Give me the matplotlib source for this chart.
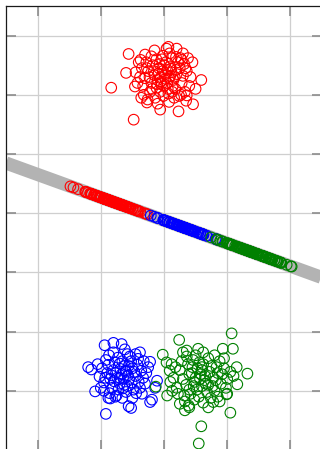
import numpy as np
import matplotlib
matplotlib.use("Agg")
import matplotlib.pyplot as plt

# ---- data ----
red_x = [-0.835, -0.56, -0.48, 0.07, 0.59, -0.37, -0.60, 0.46, 0.36, -0.27, 0.23, -0.06, -0.46, 0.28, 0.19,
         -0.05, 0.02, -0.10, 0.08, -0.02, 0.12, -0.15, 0.05, -0.08, 0.15,
         -0.20, 0.00, 0.10, -0.12, 0.20, -0.25, 0.03, -0.18, 0.25, 0.18,
         -0.30, 0.28, -0.06, 0.07, -0.22, 0.22, -0.12, 0.12, -0.02, 0.30,
         -0.33, 0.33, -0.28, 0.05, -0.04, 0.14, -0.16, 0.02, -0.09, 0.10,
         -0.01, 0.16, -0.14, 0.26, -0.35, 0.36, 0.09, -0.20, 0.24, -0.26,
         0.00, -0.11, 0.19, -0.23, 0.06, 0.13, -0.03, 0.32, -0.38, 0.40,
         -0.40, 0.42, -0.32, 0.35, -0.42, 0.45, -0.10, 0.08, 0.30, -0.30,
         0.38, -0.45, 0.50, 0.04, -0.15, 0.20, -0.36, 0.27, -0.05, 0.11,
         -0.19, 0.17, -0.27, 0.34, -0.07]
red_y = [2.12, 2.69, 1.58, 2.81, 2.25, 2.59, 2.37, 1.84, 1.99, 1.87, 1.72, 1.75, 2.14, 2.59, 2.64,
         2.30, 2.35, 2.25, 2.28, 2.40, 2.38, 2.33, 2.20, 2.45, 2.25,
         2.20, 2.15, 2.48, 2.12, 2.35, 2.40, 2.55, 2.50, 2.45, 2.10,
         2.28, 2.20, 2.05, 2.02, 2.05, 2.55, 2.60, 2.62, 2.66, 2.32,
         2.15, 2.05, 2.55, 2.42, 2.18, 2.15, 2.40, 2.27, 2.36, 2.32,
         1.98, 1.95, 1.95, 2.62, 2.45, 2.40, 2.70, 2.65, 1.98, 1.92,
         2.50, 2.18, 2.42, 2.30, 2.10, 2.05, 2.60, 2.52, 2.30, 2.15,
         2.55, 2.30, 2.00, 1.90, 2.20, 2.55, 1.85, 1.88, 2.70, 2.68,
         2.62, 2.38, 2.10, 2.78, 2.75, 2.78, 1.95, 2.00, 2.22, 2.44,
         2.10, 2.30, 2.45, 2.45, 2.52]

blue_x = [-0.94, -0.67, -0.80, -1.20, -1.15, -1.09, -0.92, -0.56, -0.52, -0.22, -0.19, -0.11, -0.14, -0.38, -0.22, -0.85, -0.77,
          -0.67, -0.60, -0.74, -0.55, -0.80, -0.62, -0.70, -0.50, -0.85, -0.58,
          -0.78, -0.45, -0.90, -0.66, -0.40, -0.72, -0.52, -0.95, -0.48, -0.82,
          -0.36, -0.64, -0.76, -0.57, -0.69, -0.88, -0.42, -0.60, -0.98, -0.33,
          -0.73, -0.54, -0.86, -0.44, -0.63, -0.79, -0.51, -0.70, -0.92, -0.38,
          -0.61, -0.83, -0.47, -0.75, -0.58, -0.30, -1.02, -0.66, -0.41, -0.87,
          -1.05, -0.28, -0.95, -0.35, -0.62, -0.80, -0.50, -1.00, -0.25, -0.45,
          -0.88, -0.70, -0.56, -0.65, -0.93, -0.32]
blue_y = [-2.23, -2.21, -2.19, -2.60, -2.64, -3.01, -3.39, -3.26, -3.29, -3.19, -3.15, -2.83, -2.95, -2.35, -2.51, -3.13, -3.10,
          -2.72, -2.68, -2.78, -2.80, -2.65, -2.58, -2.88, -2.62, -2.80, -2.92,
          -2.52, -2.75, -2.70, -2.50, -2.85, -2.98, -2.50, -2.86, -2.98, -2.95,
          -2.66, -2.80, -2.70, -2.74, -2.63, -2.56, -2.56, -3.02, -2.62, -2.78,
          -2.44, -2.42, -3.04, -3.04, -2.90, -2.84, -2.86, -2.54, -2.48, -2.95,
          -2.66, -2.74, -2.68, -3.08, -2.38, -2.88, -2.76, -3.12, -2.46, -2.40,
          -2.55, -2.70, -3.00, -3.05, -2.30, -2.35, -3.12, -2.95, -2.60, -2.38,
          -3.12, -2.78, -2.58, -2.96, -2.78, -2.50]

green_x = [1.07, 0.24, 1.09, 1.32, 1.16, 1.05, 0.59, 0.55, 0.33, 0.39, 0.04, 0.09, -0.13, 0.13, 0.78, 0.99, 0.36, 0.54, 0.93, -0.02,
           0.57, 0.65, 0.48, 0.70, 0.40, 0.60, 0.52, 0.78, 0.35, 0.68,
           0.45, 0.85, 0.30, 0.62, 0.90, 0.42, 0.75, 0.25, 0.80, 0.55,
           0.95, 0.20, 0.58, 0.50, 0.72, 0.38, 0.88, 0.66, 0.32, 1.00,
           0.46, 0.74, 0.28, 0.60, 0.82, 0.40, 0.53, 0.98, 0.15, 0.70,
           0.36, 0.85, 0.62, 0.22, 0.48, 0.92, 0.56, 0.77, 0.44, 0.64,
           0.18, 1.05, 0.33, 0.88, 0.50,
           0.10, 1.10, 0.25, 1.00, 0.62, 0.80, 0.12, 1.15, 0.40, 0.70,
           0.05, 0.95, 0.60, 0.47, 0.83, 0.30]
green_y = [-2.03, -2.14, -2.29, -2.71, -2.89, -3.37, -3.60, -3.89, -3.33, -3.25, -2.52, -2.66, -2.93, -3.00, -3.19, -3.06, -2.32, -2.29, -2.29, -2.39,
           -2.80, -2.75, -2.85, -2.90, -2.72, -2.65, -2.98, -2.78, -2.90, -3.02,
           -2.60, -2.70, -2.80, -2.55, -2.88, -3.05, -2.58, -2.65, -3.00, -3.10,
           -2.62, -2.95, -2.72, -2.78, -2.68, -2.55, -2.50, -2.88, -3.08, -2.80,
           -2.48, -3.12, -2.50, -2.92, -2.82, -2.98, -2.62, -2.95, -2.78, -2.45,
           -2.42, -3.10, -3.20, -3.05, -3.15, -2.72, -2.52, -2.92, -2.70, -2.82,
           -2.60, -2.68, -3.18, -3.18, -2.40,
           -2.85, -2.75, -3.22, -3.05, -2.35, -2.40, -2.55, -2.60, -3.28, -3.28,
           -3.08, -2.45, -2.60, -2.92, -2.60, -2.35]

line_point = (0.0, -0.12)
line_slope = -0.387

x_ticks = [-2, -1, 0, 1, 2]
y_ticks = [-4, -3, -2, -1, 0, 1, 2, 3]

# ---- figure ----
fig = plt.figure(figsize=(3.2, 4.49), dpi=100)
ax = fig.add_axes([6 / 320, 1 - 450 / 449, 316 / 320, 444 / 449])
ax.set_xlim(-2.5, 2.5)
ax.set_ylim(-4.0, 3.5)
ax.set_xticks(x_ticks)
ax.set_yticks(y_ticks)
ax.tick_params(direction='in', top=True, right=True, labelbottom=False, labelleft=False,
               length=7, width=1.2, color='0.55')
ax.grid(True, color='#cfcfcf', linewidth=0.9)
ax.set_axisbelow(True)
for s in ax.spines.values():
    s.set_color('0.1')
    s.set_linewidth(0.9)

ax.axline(line_point, slope=line_slope, color='#b3b3b3', linewidth=9.5, zorder=2,
          solid_capstyle='butt')

d = np.array([1.0, line_slope])
d = d / np.linalg.norm(d)
o = np.array(line_point)

marker_kw = dict(s=58, facecolors='none', linewidths=0.8)
for xs, ys, col in [(red_x, red_y, 'red'), (blue_x, blue_y, 'blue'), (green_x, green_y, 'green')]:
    P = np.column_stack([xs, ys])
    t = (P - o) @ d
    proj = o + t[:, None] * d
    ax.scatter(proj[:, 0], proj[:, 1], edgecolors=col, zorder=3, **marker_kw)
    ax.scatter(P[:, 0], P[:, 1], edgecolors=col, zorder=3, **marker_kw)

fig.savefig('out.png', dpi=100)
